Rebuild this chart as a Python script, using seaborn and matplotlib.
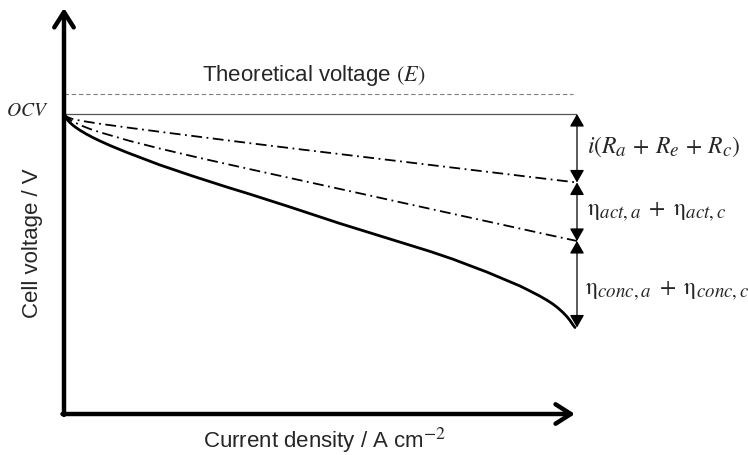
import matplotlib
matplotlib.use("Agg")
import matplotlib.pyplot as plt
import seaborn as sns

try:
    # slightly larger sub/superscripts for the loss labels
    import matplotlib._mathtext as _mt
    _mt.SHRINK_FACTOR = 0.8
except Exception:
    pass

sns.set_style("white")
plt.rcParams["font.family"] = ["Liberation Sans", "DejaVu Sans"]
plt.rcParams["mathtext.fontset"] = "stix"

# Reference levels (V)
E_theory = 1.067
OCV = 1.000

# Ohmic-loss line
j_ohm = [0.0, 0.0039, 0.0078, 0.0156, 0.0312, 0.0702, 0.1287, 0.1871, 0.2651, 0.3626,
         0.4600, 0.5575, 0.6550, 0.7524, 0.8499, 0.9474, 1.0]
v_ohm = [1.000, 0.9933, 0.9890, 0.9840, 0.9780, 0.9673, 0.9537, 0.9407, 0.9237, 0.9027,
         0.8823, 0.8623, 0.8423, 0.8223, 0.8023, 0.7823, 0.7717]

# Ohmic + activation loss line
j_act = [0.0, 0.0039, 0.0078, 0.0156, 0.0312, 0.0507, 0.0702, 0.1287, 0.1871, 0.2651,
         0.3626, 0.4600, 0.5575, 0.6550, 0.7524, 0.8499, 0.9474, 1.0]
v_act = [1.000, 0.9917, 0.9857, 0.9767, 0.9633, 0.9500, 0.9390, 0.9100, 0.8847, 0.8533,
         0.8160, 0.7793, 0.7427, 0.7060, 0.6693, 0.6327, 0.5960, 0.5767]

# Actual polarisation curve
j_cell = [0.0, 0.00195, 0.0039, 0.0078, 0.0117, 0.0175, 0.0234, 0.0312, 0.0429, 0.0565,
          0.0702, 0.0897, 0.1228, 0.1871, 0.2515, 0.3177, 0.3626, 0.4405, 0.5380, 0.6355,
          0.7135, 0.7583, 0.8246, 0.8889, 0.9084, 0.9279, 0.9415, 0.9532, 0.9630, 0.9727,
          0.9805, 0.9864, 0.9922, 0.9961]
v_cell = [1.000, 0.9927, 0.9870, 0.9783, 0.9713, 0.9623, 0.9547, 0.9457, 0.9337, 0.9213,
          0.9100, 0.8950, 0.8717, 0.8300, 0.7927, 0.7563, 0.7327, 0.6900, 0.6350, 0.5833,
          0.5420, 0.5160, 0.4730, 0.4267, 0.4100, 0.3927, 0.3793, 0.3663, 0.3533, 0.3383,
          0.3243, 0.3117, 0.2970, 0.2883]

W, H = 748, 455
fig = plt.figure(figsize=(W / 100, H / 100), dpi=100)
ax = fig.add_axes([64 / W, 41 / H, 513 / W, 406 / H])
ax.set_xlim(0, 1.0)
ax.set_ylim(0, 406 / 300)
ax.axis("off")

# Theoretical and open-circuit levels
ax.plot([0, 0.992], [E_theory, E_theory], color="#7f7f7f", lw=0.8, ls=(0, (4, 2.5)))
ax.plot([0, 1.0], [OCV, OCV], color="#555555", lw=0.9)

dashdot = (0, (6, 2.5, 1, 2.5))
sns.lineplot(x=j_ohm, y=v_ohm, color="black", linewidth=1.3, linestyle=dashdot, sort=False, ax=ax)
sns.lineplot(x=j_act, y=v_act, color="black", linewidth=1.3, linestyle=dashdot, sort=False, ax=ax)
sns.lineplot(x=j_cell, y=v_cell, color="black", linewidth=2.0, sort=False, ax=ax)

# Axis arrows
axis_arrow = dict(arrowstyle="->,head_length=0.55,head_width=0.35", lw=3.2,
                  color="black", shrinkA=0, shrinkB=0, mutation_scale=20)
ax.annotate("", xy=(0, 406 / 300), xytext=(0, -0.003), arrowprops=axis_arrow,
            annotation_clip=False)
ax.annotate("", xy=(0.996, 0), xytext=(-0.003, 0), arrowprops=axis_arrow,
            annotation_clip=False)

# Loss brackets
levels = [OCV, v_ohm[-1], v_act[-1], v_cell[-1]]
for top, bot in zip(levels[:-1], levels[1:]):
    ax.annotate("", xy=(1.0, bot), xytext=(1.0, top),
                arrowprops=dict(arrowstyle="<|-|>,head_length=0.7,head_width=0.4", lw=0.9,
                                color="black", shrinkA=0, shrinkB=0, mutation_scale=11),
                annotation_clip=False)

label_kw = dict(fontsize=17, va="center", ha="left", clip_on=False)
ax.text(1.02, (levels[0] + levels[1]) / 2 + 0.005, r"$i(R_a\,+\,R_e\,+\,R_c)$", **label_kw)
ax.text(1.02, (levels[1] + levels[2]) / 2,
        r"$\mathrm{\eta}_{act,a}\;+\;\mathrm{\eta}_{act,c}$", **label_kw)
ax.text(1.015, (levels[2] + levels[3]) / 2 - 0.02,
        r"$\mathrm{\eta}_{conc,a}\;+\;\mathrm{\eta}_{conc,c}$", **label_kw)

fig.text(314 / W, 1 - 75 / H, r"Theoretical voltage $(E)$", fontsize=16, ha="center", va="center")
ax.text(-0.03, OCV + 0.01, r"$OCV$", fontsize=14, ha="right", va="center", clip_on=False)

fig.text(33 / W, 1 - 243 / H, "Cell voltage / V", rotation=90, fontsize=16,
         ha="center", va="center")
fig.text(325 / W, 1 - 440 / H, "Current density / A cm$^{\u2212 2}$", fontsize=16,
         ha="center", va="center")

fig.savefig("out.png", dpi=100)
